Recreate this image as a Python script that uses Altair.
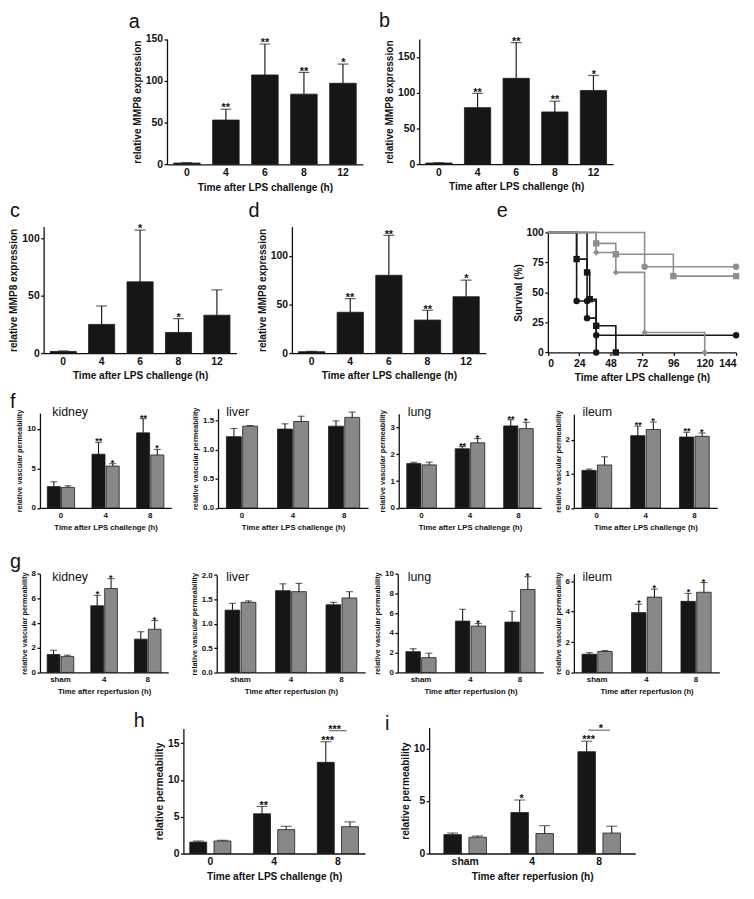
import altair as alt
import pandas as pd

# ---------------- data ----------------
mmp_hours = ["0", "4", "6", "8", "12"]
a_mean = [1.5, 53, 107, 84, 97]
a_sem = [0.4, 13, 37, 26, 23]
a_sig = ["", "**", "**", "**", "*"]
b_mean = [1.5, 79, 120, 73, 103]
b_sem = [0.4, 20, 50, 15, 21]
b_sig = ["", "**", "**", "**", "*"]
c_mean = [1.5, 25, 62, 18, 33]
c_sem = [0.4, 16, 45, 12, 22]
c_sig = ["", "", "*", "*", ""]
d_mean = [1.5, 42, 80, 34, 58]
d_sem = [0.4, 14, 41, 10, 17]
d_sig = ["", "**", "**", "**", "*"]

surv_names = ["dark circle 1", "dark circle 2", "dark square", "grey circle", "grey square", "grey diamond"]
surv_1_t = [0, 22, 30, 37, 144]
surv_1_s = [100, 42.9, 28.6, 14.3, 14.3]
surv_2_t = [0, 30, 37]
surv_2_s = [100, 42.9, 0]
surv_3_t = [0, 22, 30, 32, 37, 52]
surv_3_s = [100, 77.8, 66.7, 44.4, 22.2, 0]
surv_4_t = [0, 74, 144]
surv_4_s = [100, 71.4, 71.4]
surv_5_t = [0, 37, 52, 96, 144]
surv_5_s = [100, 90.9, 81.8, 63.6, 63.6]
surv_6_t = [0, 37, 52, 74, 120]
surv_6_s = [100, 83.3, 66.7, 16.7, 0]

lps_hours = ["0", "4", "8"]
ir_hours = ["sham", "4", "8"]

fk_dark = [2.7, 6.8, 9.5]
fk_dark_sem = [0.6, 1.5, 1.8]
fk_dark_sig = ["", "**", "**"]
fk_grey = [2.6, 5.3, 6.7]
fk_grey_sem = [0.2, 0.3, 0.7]
fk_grey_sig = ["", "*", "*"]

fl_dark = [1.22, 1.35, 1.40]
fl_dark_sem = [0.14, 0.09, 0.09]
fl_grey = [1.40, 1.48, 1.55]
fl_grey_sem = [0.01, 0.09, 0.09]

flu_dark = [1.65, 2.2, 3.05]
flu_dark_sem = [0.05, 0.08, 0.23]
flu_dark_sig = ["", "**", "**"]
flu_grey = [1.6, 2.42, 2.95]
flu_grey_sem = [0.1, 0.16, 0.23]
flu_grey_sig = ["", "*", "*"]

fi_dark = [1.1, 2.12, 2.08]
fi_dark_sem = [0.04, 0.28, 0.14]
fi_dark_sig = ["", "**", "**"]
fi_grey = [1.26, 2.3, 2.1]
fi_grey_sem = [0.24, 0.22, 0.1]
fi_grey_sig = ["", "*", "*"]

gk_dark = [1.45, 5.4, 2.7]
gk_dark_sem = [0.35, 0.85, 0.6]
gk_dark_sig = ["", "*", ""]
gk_grey = [1.3, 6.8, 3.5]
gk_grey_sem = [0.1, 0.8, 0.7]
gk_grey_sig = ["", "*", "*"]

gl_dark = [1.28, 1.68, 1.39]
gl_dark_sem = [0.14, 0.14, 0.05]
gl_grey = [1.44, 1.66, 1.53]
gl_grey_sem = [0.03, 0.17, 0.13]

glu_dark = [2.1, 5.2, 5.1]
glu_dark_sem = [0.3, 1.2, 1.1]
glu_grey = [1.5, 4.7, 8.4]
glu_grey_sem = [0.45, 0.25, 1.3]
glu_grey_sig = ["", "*", "*"]

gi_dark = [1.2, 3.94, 4.68]
gi_dark_sem = [0.1, 0.55, 0.52]
gi_dark_sig = ["", "*", "*"]
gi_grey = [1.38, 4.96, 5.28]
gi_grey_sem = [0.06, 0.53, 0.64]
gi_grey_sig = ["", "*", "*"]

h_dark = [1.55, 5.4, 12.4]
h_dark_sem = [0.15, 1.0, 2.8]
h_dark_sig = ["", "**", "***"]
h_grey = [1.7, 3.25, 3.65]
h_grey_sem = [0.1, 0.45, 0.65]
h_bracket = [16.7]
h_bracket_sig = ["***"]

i_dark = [1.8, 3.9, 9.7]
i_dark_sem = [0.15, 1.2, 1.0]
i_dark_sig = ["", "*", "***"]
i_grey = [1.55, 1.9, 1.95]
i_grey_sem = [0.12, 0.75, 0.65]
i_bracket = [11.75]
i_bracket_sig = ["*"]

# ---------------- layout helpers ----------------
W, H = 746, 883
KY = 0.984


def X(r):
    return r - 6.0


def Y(r):
    return (r - 3.0) * KY


FONT = "Liberation Sans, Arial, sans-serif"
DARK = "#161616"
GREY = "#888888"
EDGE = "#1c1c1c"

BIG = dict(lab=10.5, xt=10.2, yt=10.2, cap=11, sfs=11, sdy=2.3, pad=3)
SMALL = dict(lab=8, xt=7.8, yt=7.4, cap=7, sfs=9, sdy=2.0, pad=3)


def letter(txt, lx, ly, size=20):
    return alt.Chart(pd.DataFrame({"l": [txt]})).mark_text(
        align="left", baseline="alphabetic", fontSize=size, font=FONT, color="#111"
    ).encode(x=alt.value(X(lx)), y=alt.value(Y(ly)), text="l:N")


def yaxis(title, left, values, fmt, st):
    return alt.Axis(title=title, orient="left", offset=-X(left), values=values, format=fmt,
                    tickSize=3, labelPadding=1.5, labelFontSize=st["lab"], titleFontSize=st["yt"],
                    titlePadding=st["pad"])


def xaxis(title, bottom, st, ticks=False, values=None):
    kw = dict(title=title, orient="bottom", offset=Y(bottom) - H, ticks=ticks, labelAngle=0,
              labelPadding=3 if ticks else 3.5, labelFontSize=st["lab"], titleFontSize=st["xt"],
              titlePadding=st["pad"] + 1)
    if ticks:
        kw["tickSize"] = 3
    if values is not None:
        kw["values"] = values
    return alt.Axis(**kw)


def simple_panel(cats, mean, sem, sig, box, ymax, yticks, let):
    left, right, top, bottom = box
    st = BIG
    df = pd.DataFrame({"t": cats, "v": mean, "hi": [m + e for m, e in zip(mean, sem)], "sig": sig})

    def xs():
        return alt.Scale(domain=cats, range=[X(left), X(right)], paddingInner=0.32, paddingOuter=0.17)

    def ys():
        return alt.Scale(domain=[0, ymax], range=[Y(bottom), Y(top)], nice=False, zero=True)

    base = alt.Chart(df)
    bars = base.mark_bar(color=DARK, stroke=EDGE, strokeWidth=0.8).encode(
        x=alt.X("t:N", scale=xs(), axis=xaxis("Time after LPS challenge (h)", bottom, st)),
        y=alt.Y("v:Q", scale=ys(), axis=yaxis("relative MMP8 expression", left, yticks, "d", st)),
    )
    rules = base.mark_rule(color=EDGE, strokeWidth=1.2).encode(
        x=alt.X("t:N", scale=xs(), axis=None), y=alt.Y("v:Q", scale=ys(), axis=None), y2="hi:Q")
    caps = base.mark_tick(orient="horizontal", size=st["cap"], thickness=1.2, color=EDGE).encode(
        x=alt.X("t:N", scale=xs(), axis=None), y=alt.Y("hi:Q", scale=ys(), axis=None))
    stars = base.transform_filter(alt.datum.sig != "").mark_text(
        baseline="alphabetic", dy=st["sdy"], fontSize=st["sfs"], font=FONT, fontWeight="bold", color="#111"
    ).encode(x=alt.X("t:N", scale=xs(), axis=None), y=alt.Y("hi:Q", scale=ys(), axis=None), text="sig:N")
    return [bars, rules, caps, stars, letter(*let)]


def group_panel(cats, dark, dsem, dsig, grey, gsem, gsig, box, ymax, yticks, fmt, ytitle, xtitle,
                small=True, organ=None, let=None, bracket=None, pin=0.39, pout=0.165, opad=0.08):
    left, right, top, bottom = box
    st = SMALL if small else BIG
    n = len(cats)
    df = pd.DataFrame({
        "t": cats + cats,
        "s": ["dark"] * n + ["grey"] * n,
        "v": dark + grey,
        "hi": [m + e for m, e in zip(dark, dsem)] + [m + e for m, e in zip(grey, gsem)],
        "sig": (dsig or [""] * n) + (gsig or [""] * n),
    })

    def xs():
        return alt.Scale(domain=cats, range=[X(left), X(right)], paddingInner=pin, paddingOuter=pout)

    def ys():
        return alt.Scale(domain=[0, ymax], range=[Y(bottom), Y(top)], nice=False, zero=True)

    def xo():
        return alt.XOffset("s:N", scale=alt.Scale(domain=["dark", "grey"], paddingInner=opad))

    def xn():
        return alt.X("t:N", scale=xs(), axis=None)

    cs = alt.Scale(domain=["dark", "grey"], range=[DARK, GREY])
    base = alt.Chart(df)
    bars = base.mark_bar(stroke=EDGE, strokeWidth=0.8).encode(
        x=alt.X("t:N", scale=xs(), axis=xaxis(xtitle, bottom, st)),
        xOffset=xo(),
        y=alt.Y("v:Q", scale=ys(), axis=yaxis(ytitle, left, yticks, fmt, st)),
        color=alt.Color("s:N", scale=cs, legend=None),
    )
    rules = base.mark_rule(color=EDGE, strokeWidth=1.1).encode(
        x=xn(), xOffset=xo(), y=alt.Y("v:Q", scale=ys(), axis=None), y2="hi:Q")
    caps = base.mark_tick(orient="horizontal", size=st["cap"], thickness=1.1, color=EDGE).encode(
        x=xn(), xOffset=xo(), y=alt.Y("hi:Q", scale=ys(), axis=None))
    stars = base.transform_filter(alt.datum.sig != "").mark_text(
        baseline="alphabetic", dy=st["sdy"], fontSize=st["sfs"], font=FONT, fontWeight="bold", color="#111"
    ).encode(x=xn(), xOffset=xo(), y=alt.Y("hi:Q", scale=ys(), axis=None), text="sig:N")
    layers = [bars, rules, caps, stars]
    if organ is not None:
        name, ox, oy = organ
        layers.append(alt.Chart(pd.DataFrame({"o": [name]})).mark_text(
            align="left", baseline="alphabetic", fontSize=12.5, font=FONT, color="#111"
        ).encode(x=alt.value(X(ox)), y=alt.value(Y(oy)), text="o:N"))
    if bracket is not None:
        bval, bsig, bsize = bracket
        bdf = pd.DataFrame({"t": [cats[-1]], "v": bval, "sig": bsig})
        layers.append(alt.Chart(bdf).mark_tick(orient="horizontal", size=bsize, thickness=1.1, color=EDGE)
                      .encode(x=xn(), y=alt.Y("v:Q", scale=ys(), axis=None)))
        layers.append(alt.Chart(bdf).mark_text(baseline="alphabetic", dy=2.0, fontSize=st["sfs"], font=FONT,
                                               fontWeight="bold", color="#111")
                      .encode(x=xn(), y=alt.Y("v:Q", scale=ys(), axis=None), text="sig:N"))
    if let is not None:
        layers.append(letter(*let))
    return layers


def survival_panel():
    left, right, top, bottom = 551.7, 742.0, 228.7, 352.0
    st = BIG
    ts = [surv_1_t, surv_2_t, surv_3_t, surv_4_t, surv_5_t, surv_6_t]
    ss = [surv_1_s, surv_2_s, surv_3_s, surv_4_s, surv_5_s, surv_6_s]
    rows = []
    for name, tt, sv in zip(surv_names, ts, ss):
        for k, (t, s) in enumerate(zip(tt, sv)):
            rows.append({"g": name, "t": t, "s": s, "mk": k > 0,
                         "tone": "dark" if name.startswith("dark") else "grey"})
    df = pd.DataFrame(rows)

    def xs():
        return alt.Scale(domain=[0, 144], range=[X(left), X(right)], nice=False, zero=True)

    def ys():
        return alt.Scale(domain=[0, 100], range=[Y(bottom), Y(top)], nice=False, zero=True)

    def cs():
        return alt.Scale(domain=surv_names, range=[DARK, DARK, DARK, "#8f8f8f", "#8f8f8f", "#8f8f8f"])

    sh = alt.Scale(domain=surv_names, range=["circle", "circle", "square", "circle", "square", "diamond"])
    xa = xaxis("Time after LPS challenge (h)", bottom, st, ticks=True,
               values=[0, 24, 48, 72, 96, 120, 144])
    ya = yaxis("Survival (%)", left, [0, 25, 50, 75, 100], "d", st)
    lines = []
    for tone in ["dark", "grey"]:
        lines.append(alt.Chart(df).transform_filter(alt.datum.tone == tone).mark_line(
            interpolate="step-after", strokeWidth=1.6).encode(
            x=alt.X("t:Q", scale=xs(), axis=xa if tone == "dark" else None),
            y=alt.Y("s:Q", scale=ys(), axis=ya if tone == "dark" else None),
            color=alt.Color("g:N", scale=cs(), legend=None),
            detail="g:N",
        ))
    pts = alt.Chart(df).transform_filter(alt.datum.mk).mark_point(filled=True, opacity=1, size=42).encode(
        x=alt.X("t:Q", scale=xs(), axis=None),
        y=alt.Y("s:Q", scale=ys(), axis=None),
        color=alt.Color("g:N", scale=cs(), legend=None),
        shape=alt.Shape("g:N", scale=sh, legend=None),
    )
    return lines + [pts, letter("e", 500, 213)]


LPS_T = "Time after LPS challenge (h)"
IR_T = "Time after reperfusion (h)"
VP = "relative vascular permeability"

units = []
units += simple_panel(mmp_hours, a_mean, a_sem, a_sig, (166.7, 364.7, 30, 158.7), 150, [0, 50, 100, 150], ("a", 128, 19))
units += simple_panel(mmp_hours, b_mean, b_sem, b_sig, (421.7, 617.7, 30, 158.5), 175, [0, 50, 100, 150], ("b", 381, 18))
units += simple_panel(mmp_hours, c_mean, c_sem, c_sig, (42, 237, 222.7, 352.7), 110, [0, 50, 100], ("c", 8, 213))
units += simple_panel(mmp_hours, d_mean, d_sem, d_sig, (293, 489, 222.7, 352.7), 130, [0, 50, 100], ("d", 249, 213))
units += survival_panel()
units += group_panel(lps_hours, fk_dark, fk_dark_sem, fk_dark_sig, fk_grey, fk_grey_sem, fk_grey_sig,
                     (38.3, 171, 414.3, 511.7), 12, [0, 5, 10], "d", VP, LPS_T,
                     organ=("kidney", 50.7, 417), let=("f", 8, 409))
units += group_panel(lps_hours, fl_dark, fl_dark_sem, None, fl_grey, fl_grey_sem, None,
                     (218.3, 370, 409.7, 511.7), 1.7, [0, 0.5, 1.0, 1.5], ".1f", VP, LPS_T,
                     organ=("liver", 226.7, 417))
units += group_panel(lps_hours, flu_dark, flu_dark_sem, flu_dark_sig, flu_grey, flu_grey_sem, flu_grey_sig,
                     (401, 545, 415, 511.7), 3.5, [0, 1, 2, 3], "d", VP, LPS_T,
                     organ=("lung", 410, 417))
units += group_panel(lps_hours, fi_dark, fi_dark_sem, fi_dark_sig, fi_grey, fi_grey_sem, fi_grey_sig,
                     (578, 723, 415.4, 511.7), 2.75, [0, 1, 2], "d", VP, LPS_T,
                     organ=("ileum", 586.7, 417))
units += group_panel(ir_hours, gk_dark, gk_dark_sem, gk_dark_sig, gk_grey, gk_grey_sem, gk_grey_sig,
                     (38.3, 168, 579.3, 680.7), 8, [0, 2, 4, 6, 8], "d", VP, IR_T,
                     organ=("kidney", 50.7, 587), let=("g", 8, 573))
units += group_panel(ir_hours, gl_dark, gl_dark_sem, None, gl_grey, gl_grey_sem, None,
                     (217, 367, 580.7, 680.7), 2.0, [0, 0.5, 1.0, 1.5, 2.0], ".1f", VP, IR_T,
                     organ=("liver", 226.7, 587))
units += group_panel(ir_hours, glu_dark, glu_dark_sem, None, glu_grey, glu_grey_sem, glu_grey_sig,
                     (400, 547, 579.3, 680.7), 10, [0, 2, 4, 6, 8, 10], "d", VP, IR_T,
                     organ=("lung", 410, 587))
units += group_panel(ir_hours, gi_dark, gi_dark_sem, gi_dark_sig, gi_grey, gi_grey_sem, gi_grey_sig,
                     (578, 725, 579.3, 680.7), 6.5, [0, 2, 4, 6], "d", VP, IR_T,
                     organ=("ileum", 586.7, 587))
units += group_panel(lps_hours, h_dark, h_dark_sem, h_dark_sig, h_grey, h_grey_sem, None,
                     (183.3, 366.7, 738.3, 866.7), 17, [0, 5, 10, 15], "d", "relative permeability", LPS_T,
                     small=False, let=("h", 133, 737), bracket=(h_bracket, h_bracket_sig, 18),
                     pin=0.355, pout=0.1, opad=0.3)
units += group_panel(ir_hours, i_dark, i_dark_sem, i_dark_sig, i_grey, i_grey_sem, None,
                     (431.7, 640, 737.3, 866.7), 12, [0, 5, 10], "d", "relative permeability", IR_T,
                     small=False, let=("i", 387, 740), bracket=(i_bracket, i_bracket_sig, 22),
                     pin=0.365, pout=0.22, opad=0.3)

chart = alt.layer(*units).resolve_scale(
    x="independent", y="independent", xOffset="independent", color="independent", shape="independent"
).resolve_axis(x="independent", y="independent").properties(
    width=W, height=H, padding=0, autosize=alt.AutoSizeParams(type="none"), background="white"
).configure_view(stroke=None).configure_axis(
    grid=False, domainColor="#111", domainWidth=1.3, tickColor="#111", tickWidth=1.3,
    labelColor="#111", titleColor="#111", labelFont=FONT, titleFont=FONT,
    labelFontWeight="bold", titleFontWeight="bold",
)

chart.save("out.html", embed_options={"renderer": "svg", "actions": False})
